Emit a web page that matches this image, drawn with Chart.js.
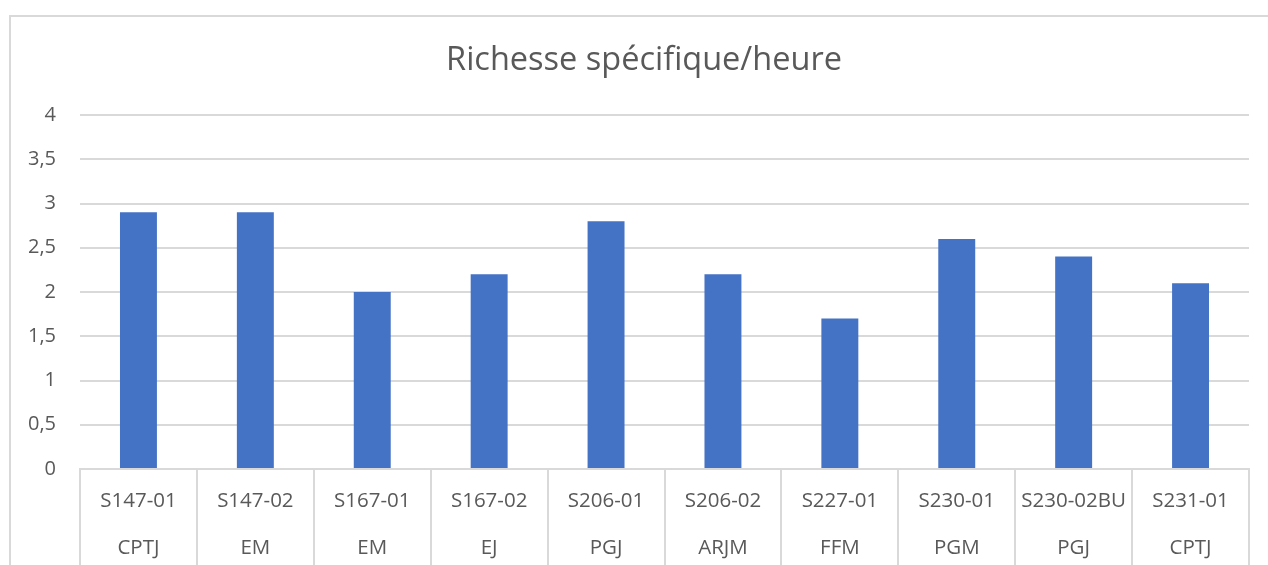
<!DOCTYPE html>
<html>
<head>
<meta charset="utf-8">
<script src="https://cdn.jsdelivr.net/npm/chart.js"></script>
<style>
    html, body { margin: 0; padding: 0; background: #fff; overflow: hidden; }
    #wrap { position: relative; width: 1268px; height: 565px; }
    #frame { position: absolute; left: 9px; top: 15px; width: 1300px; height: 600px; border: 2px solid #d9d9d9; box-sizing: border-box; }
    #chart { position: absolute; left: 0; top: 0; }
</style>
</head>
<body>
<div id="wrap">
    <div id="frame"></div>
    <canvas id="chart" width="1268" height="565"></canvas>
</div>
<script>
const sites = ['S147-01', 'S147-02', 'S167-01', 'S167-02', 'S206-01', 'S206-02', 'S227-01', 'S230-01', 'S230-02BU', 'S231-01'];
const codes = ['CPTJ', 'EM', 'EM', 'EJ', 'PGJ', 'ARJM', 'FFM', 'PGM', 'PGJ', 'CPTJ'];
const richness = [2.9, 2.9, 2.0, 2.2, 2.8, 2.2, 1.7, 2.6, 2.4, 2.1];
const yTicks = [0, 0.5, 1, 1.5, 2, 2.5, 3, 3.5, 4];

const textColor = '#595959';
const gridColor = '#d9d9d9';
const fontFamily = '"Open Sans", "Noto Sans", sans-serif';

const labels = sites.map((s, i) => [s, codes[i]]);

// centre the title over the framed area rather than the whole canvas
const titleShift = {
    id: 'titleShift',
    afterLayout(chart) {
        if (chart.titleBlock) {
            chart.titleBlock.left = 39;
            chart.titleBlock.right = 1249;
        }
    }
};

new Chart(document.getElementById('chart'), {
    type: 'bar',
    data: {
        labels: labels,
        datasets: [{
            label: 'Richesse spécifique/heure',
            data: richness,
            backgroundColor: '#4472C4',
            borderWidth: 0,
            categoryPercentage: 1,
            barPercentage: 0.316
        }]
    },
    options: {
        responsive: false,
        animation: false,
        layout: {
            padding: { left: 0, right: 19, top: 0, bottom: 0 }
        },
        plugins: {
            legend: { display: false },
            tooltip: { enabled: false },
            title: {
                display: true,
                text: 'Richesse spécifique/heure',
                color: textColor,
                font: { family: fontFamily, size: 32.5, weight: 'normal', lineHeight: 1.2 },
                padding: { top: 41, bottom: 35 }
            }
        },
        scales: {
            x: {
                offset: true,
                grid: {
                    offset: true,
                    drawOnChartArea: false,
                    drawTicks: true,
                    tickLength: 97,
                    color: gridColor,
                    lineWidth: 2
                },
                border: { display: true, color: gridColor, width: 2 },
                ticks: {
                    color: textColor,
                    padding: -88,
                    maxRotation: 0,
                    autoSkip: false,
                    font: { family: fontFamily, size: 20.5, lineHeight: 47 / 20.5 }
                },
                afterFit: (scale) => { scale.height = 96; }
            },
            y: {
                min: 0,
                max: 4,
                afterBuildTicks: (scale) => {
                    scale.ticks = yTicks.map(v => ({ value: v }));
                },
                grid: {
                    color: gridColor,
                    lineWidth: 2,
                    drawTicks: false
                },
                border: { display: false },
                ticks: {
                    color: textColor,
                    padding: 24,
                    font: { family: fontFamily, size: 20 },
                    callback: (v) => String(v).replace('.', ',')
                },
                afterFit: (scale) => { scale.width = 80; }
            }
        }
    },
    plugins: [titleShift]
});
</script>
</body>
</html>
